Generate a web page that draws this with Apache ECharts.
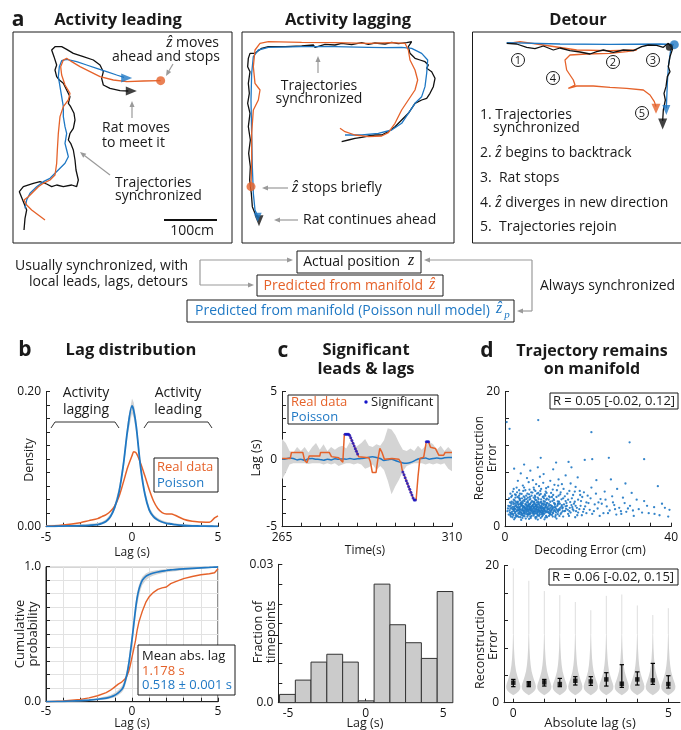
<!DOCTYPE html>
<html><head><meta charset="utf-8">
<script src="https://cdn.jsdelivr.net/npm/echarts@6/dist/echarts.min.js"></script>
<style>html,body{margin:0;padding:0;background:#fff}#c{width:681px;height:730px}</style>
</head><body><div id="c"></div>
<script>
// ================= DATA =================
// Panel a: trajectories (position units, arbitrary)
const leadRat = [[72,690],[75,655],[80,630],[68,600],[58,575],[70,560],[100,550],[120,545],[140,552],[155,560],[170,555],[190,560],[215,555],[230,560],[235,540],[228,510],[225,480],[220,450],[212,430],[205,420],[210,400],[220,385],[225,360],[222,340],[212,320],[205,310],[210,290],[200,270],[190,250],[178,240],[170,230],[165,210],[170,195],[162,170],[155,150],[165,140],[185,140],[200,148],[220,160],[250,170],[280,180],[300,195],[310,215],[305,235],[310,255],[330,265],[360,272],[385,273]];
const leadPoisson = [[75,625],[80,600],[90,580],[110,560],[130,545],[150,535],[165,520],[180,505],[195,490],[205,470],[200,450],[195,430],[200,400],[195,380],[190,350],[190,320],[185,290],[180,260],[175,230],[178,200],[185,182],[200,178],[230,185],[260,195],[290,205],[320,215],[350,225],[372,232]];
const leadReal = [[135,660],[115,645],[95,630],[80,615],[72,600],[85,590],[100,575],[115,560],[130,550],[150,540],[165,525],[170,490],[172,450],[175,400],[180,350],[190,320],[205,300],[210,280],[195,255],[185,225],[182,200],[190,180],[200,175],[215,185],[240,200],[270,215],[300,230],[340,240],[380,245],[430,243],[482,242]];
const lagRat = [[320,425],[340,420],[360,415],[380,412],[400,408],[420,405],[440,405],[460,395],[480,380],[500,360],[520,340],[540,310],[560,300],[575,295],[585,280],[595,260],[600,235],[590,215],[575,205],[580,195],[570,185],[555,180],[540,175],[525,160],[520,140],[530,125],[515,128],[490,131],[470,127],[450,132],[420,129],[400,133],[380,128],[350,134],[320,130],[300,135],[270,133],[240,142],[235,135],[200,138],[150,140],[100,140],[80,145],[60,160],[45,160],[40,175],[38,200],[45,215],[40,250],[43,280],[38,310],[45,340],[40,380],[46,420],[41,460],[46,500],[44,540],[49,580],[52,620],[62,645],[72,655]];
const lagPoisson = [[330,405],[380,405],[430,400],[470,390],[500,370],[520,340],[540,310],[560,290],[570,260],[575,220],[578,180],[560,160],[530,145],[500,142],[450,143],[400,142],[300,140],[200,140],[100,142],[70,150],[55,170],[50,220],[48,300],[50,400],[52,500],[55,580],[60,630],[68,648]];
const lagReal = [[315,385],[330,395],[360,405],[400,410],[440,408],[460,398],[480,370],[500,330],[520,300],[540,270],[548,240],[540,210],[525,180],[520,150],[510,130],[470,128],[400,130],[300,128],[200,127],[100,125],[75,130],[60,150],[55,200],[60,250],[75,270],[70,300],[55,330],[50,400],[50,480],[48,560]];
const detRat = [[140,130],[170,132],[200,142],[225,146],[250,138],[280,150],[300,144],[330,152],[360,156],[390,162],[410,155],[430,150],[460,157],[490,150],[520,152],[545,140],[565,135],[590,136],[610,142],[625,130],[638,146],[630,170],[625,200],[630,215],[622,230],[618,260],[612,280],[616,300],[610,330],[608,362]];
const detPoisson = [[140,128],[300,132],[450,133],[600,132],[640,133],[632,150],[625,200],[622,250],[620,300],[619,325]];
const detReal = [[145,130],[180,125],[250,135],[350,150],[450,152],[530,150],[500,155],[450,160],[380,162],[330,165],[315,180],[320,210],[340,240],[345,255],[325,265],[350,258],[400,258],[450,262],[500,265],[550,270],[570,285],[583,305],[588,320]];

// Panel b: lag density
const densLag = [-5,-4.5,-4,-3.5,-3,-2.5,-2,-1.75,-1.5,-1.25,-1,-0.75,-0.5,-0.25,0,0.1,0.25,0.5,0.75,1,1.25,1.5,1.75,2,2.3,2.5,3,3.5,4,4.5,4.8,5];
const poissonDens = [0.0005,0.0007,0.001,0.0012,0.0015,0.002,0.003,0.005,0.008,0.015,0.029,0.052,0.092,0.145,0.179,0.172,0.148,0.088,0.048,0.025,0.015,0.01,0.007,0.005,0.004,0.003,0.0018,0.0012,0.001,0.0007,0.0006,0.0005];
const poissonDensLo = [0,0,0,0.0002,0.0005,0.001,0.0018,0.0035,0.0062,0.012,0.025,0.046,0.084,0.135,0.168,0.161,0.138,0.081,0.043,0.021,0.012,0.008,0.005,0.0035,0.0027,0.002,0.0008,0.0003,0.0001,0,0,0];
const poissonDensHi = [0.0025,0.0028,0.003,0.0033,0.0037,0.0043,0.0053,0.0075,0.011,0.019,0.034,0.059,0.1,0.155,0.19,0.184,0.158,0.096,0.054,0.029,0.018,0.013,0.0095,0.0073,0.006,0.005,0.0038,0.003,0.0028,0.0025,0.0025,0.0025];
const realDens = [0.001,0.0015,0.0025,0.004,0.006,0.009,0.012,0.015,0.018,0.023,0.031,0.045,0.066,0.088,0.105,0.111,0.109,0.094,0.075,0.055,0.038,0.027,0.021,0.019,0.019,0.017,0.011,0.008,0.007,0.0065,0.013,0.016];
// Panel b: cumulative
const cdfLag = [-5,-4,-3,-2.5,-2,-1.5,-1.25,-1,-0.8,-0.6,-0.5,-0.4,-0.3,-0.2,-0.1,0,0.1,0.2,0.3,0.4,0.5,0.6,0.8,1,1.25,1.5,1.75,2,2.1,2.25,2.5,3,3.5,4,4.5,4.8,5];
const poissonCdf = [0,0.003,0.008,0.012,0.018,0.027,0.035,0.048,0.065,0.09,0.11,0.15,0.2,0.27,0.36,0.46,0.57,0.68,0.77,0.83,0.87,0.9,0.928,0.942,0.953,0.961,0.967,0.972,0.974,0.976,0.979,0.984,0.988,0.992,0.995,0.997,0.998];
const poissonCdfLo = [0,0,0.003,0.006,0.01,0.017,0.023,0.033,0.047,0.068,0.085,0.118,0.163,0.225,0.31,0.4,0.51,0.62,0.71,0.78,0.83,0.865,0.9,0.92,0.935,0.945,0.952,0.958,0.96,0.963,0.967,0.974,0.98,0.985,0.99,0.993,0.995];
const poissonCdfHi = [0.002,0.008,0.015,0.02,0.028,0.04,0.05,0.066,0.086,0.115,0.138,0.18,0.235,0.31,0.41,0.51,0.62,0.73,0.81,0.865,0.9,0.925,0.95,0.962,0.97,0.976,0.98,0.984,0.985,0.987,0.989,0.992,0.995,0.997,0.999,1,1];
const realCdf = [0,0.005,0.017,0.028,0.044,0.067,0.085,0.11,0.13,0.145,0.155,0.17,0.19,0.22,0.27,0.33,0.39,0.45,0.53,0.59,0.63,0.67,0.735,0.778,0.81,0.832,0.843,0.85,0.862,0.875,0.888,0.912,0.927,0.94,0.948,0.955,0.985];

// Panel c: time series of lag
const cT = [265,266,267,268,269,270,271,272,273,274,275,276,277,278,279,280,281,282,283,284,285,286,287,288,289,290,291,292,293,294,295,296,297,298,299,300,301,302,303,304,305,306,307,308,309,310];
const cBandHi = [1.5,1.2,0.6,0.5,0.9,0.6,0.9,0.5,0.9,1.2,0.7,1.1,0.6,0.9,0.7,0.9,1.0,0.8,1.3,0.8,1.0,1.2,1.5,1.0,0.9,1.1,1.0,1.4,2.3,2.2,1.8,1.2,0.7,0.6,0.8,0.6,1.0,0.7,1.0,1.3,1.1,0.7,1.0,0.6,0.9,0.6];
const cBandLo = [-1.5,-1.0,-0.4,-0.3,-0.3,-0.3,-0.3,-0.35,-0.3,-0.3,-0.3,-0.4,-0.3,-0.4,-0.3,-0.5,-0.4,-0.3,-0.3,-0.4,-0.3,-0.4,-0.7,-0.6,-0.4,-0.8,-0.5,-0.8,-1.6,-2.6,-2.0,-1.5,-0.9,-0.5,-0.4,-0.3,-0.3,-0.3,-0.4,-0.3,-0.4,-0.3,-0.4,-0.3,-0.7,-0.9];
const cPoisson = [0,0.02,0.08,0.05,-0.05,0,-0.08,0.03,0.05,0,-0.02,-0.08,0,-0.05,0.03,0,0.02,0,0.05,0,0.03,0.05,0.08,0.15,0.18,0.12,0.05,-0.1,-0.05,0,-0.1,-0.2,-0.28,-0.3,-0.25,-0.12,0.02,0.05,0.08,0,0.05,0.08,0.05,0.1,0.12,0.12];
const cRealT = [265,267.2,267.5,270.5,271.0,271.6,272.2,275.0,275.2,277.5,278.1,280.0,281.1,281.5,282.8,285.3,288.0,288.4,288.9,289.9,290.3,290.9,291.5,292.1,294.1,295.9,296.5,296.8,299.9,300.5,301.0,301.5,302.5,303.2,303.8,304.3,305.6,306.5,307.8,308.2,310];
const cRealV = [0.06,0.06,0.5,0.5,-0.1,-0.26,0.23,0.23,0.5,0.5,0.19,0.1,-0.23,1.84,1.84,0.19,0.1,-0.19,-0.98,-0.98,-0.14,0.8,0.48,0.0,0.06,0.0,-0.26,-0.8,-3.02,-3.02,-1.3,0.06,0.14,1.3,1.3,0.88,0.8,0.3,0.3,0.5,0.5];
const sigT = [281.7,282.0,282.3,282.6,282.9,283.2,283.5,283.8,284.1,284.4,284.7,285.0,297.0,297.3,297.6,297.9,298.2,298.5,298.8,299.1,299.4,299.7,300.0,300.3,303.2,303.5,303.8];
const sigV = [1.84,1.84,1.84,1.84,1.78,1.58,1.38,1.18,0.98,0.78,0.58,0.39,-0.94,-1.16,-1.37,-1.59,-1.8,-2.02,-2.23,-2.45,-2.66,-2.88,-3.02,-3.02,1.3,1.3,1.3];
// Panel c: histogram of significant lags
const binEdges = [-5.55,-4.53,-3.52,-2.5,-1.48,-0.47,0.55,1.57,2.58,3.6,4.62,5.63];
const histVals = [0.0018,0.0049,0.0088,0.0105,0.0088,0.0004,0.0257,0.0169,0.0130,0.0096,0.0241];

// Panel d: decoding error (cm) vs reconstruction error
const decodeScatter = [[1.2,2.1],[1.5,3.4],[1.8,2.6],[2.0,1.7],[2.1,4.0],[2.3,3.0],[2.5,2.2],[2.6,3.7],[2.8,1.5],[2.9,2.9],[3.0,4.4],[3.1,2.4],[3.3,3.3],[3.4,1.9],[3.5,2.8],[3.6,3.9],[3.7,1.4],[3.8,2.5],[3.9,3.1],[4.0,2.0],[4.1,4.2],[4.2,2.7],[4.3,3.5],[4.4,1.6],[4.5,2.3],[4.6,3.0],[4.7,3.8],[4.8,1.9],[4.9,2.6],[5.0,3.3],[5.1,4.6],[5.2,2.1],[5.3,2.9],[5.4,1.5],[5.5,3.6],[5.6,2.4],[5.7,3.1],[5.8,1.8],[5.9,4.0],[6.0,2.7],[6.1,3.4],[6.2,2.0],[6.3,2.9],[6.4,1.6],[6.5,3.8],[6.6,2.5],[6.7,3.2],[6.8,1.9],[6.9,4.3],[7.0,2.8],[7.1,3.5],[7.2,2.2],[7.3,1.4],[7.4,3.0],[7.5,2.6],[7.6,3.9],[7.7,2.0],[7.8,3.3],[7.9,1.7],[8.0,2.9],[8.1,4.1],[8.2,2.4],[8.3,3.1],[8.4,1.8],[8.5,3.6],[8.6,2.7],[8.7,2.1],[8.8,3.4],[8.9,1.5],[9.0,2.9],[9.1,4.4],[9.2,2.3],[9.3,3.2],[9.4,1.9],[9.5,2.6],[9.6,3.7],[9.7,2.1],[9.8,3.0],[9.9,1.6],[10.0,2.8],[10.2,3.5],[10.4,2.2],[10.5,4.0],[10.7,2.6],[10.9,1.8],[11.0,3.2],[11.2,2.4],[11.4,3.8],[11.6,2.0],[11.8,2.9],[12.0,3.4],[12.2,1.7],[12.4,2.6],[12.6,3.1],[12.8,2.2],[13.0,3.7],[13.2,2.5],[13.4,1.9],[13.6,3.0],[13.8,2.7],[1.6,2.8],[2.2,2.3],[2.7,3.2],[3.2,2.0],[3.6,2.6],[4.1,3.2],[4.4,2.4],[4.8,2.9],[5.2,3.6],[5.6,1.9],[6.0,3.0],[6.3,2.4],[6.8,2.7],[7.2,3.0],[7.6,2.3],[8.1,2.6],[8.5,2.2],[9.0,3.4],[9.4,2.6],[9.9,2.3],[3.4,2.4],[4.6,2.1],[5.4,2.6],[6.6,2.1],[7.8,2.5],[3.9,3.6],[5.8,3.3],[7.0,3.7],[8.9,2.4],[10.3,2.9],[1.4,1.5],[2.4,1.3],[3.0,1.6],[4.2,1.3],[5.0,1.2],[6.2,1.3],[7.4,1.2],[8.6,1.3],[10.1,1.4],[11.5,1.5],[2.0,3.6],[3.5,4.1],[4.5,4.5],[5.5,4.3],[6.4,4.6],[7.3,4.4],[8.3,4.7],[9.4,4.2],[10.6,4.5],[11.7,4.1],[1.9,5.2],[2.8,5.8],[3.6,4.9],[4.3,6.1],[4.9,5.4],[5.7,6.6],[6.3,5.1],[6.9,5.8],[7.5,6.3],[8.0,5.0],[8.7,5.6],[9.2,6.5],[9.8,5.2],[10.4,5.9],[11.1,5.0],[11.9,6.2],[12.5,5.4],[13.3,4.8],[14.1,5.6],[15.0,4.9],[3.1,6.8],[5.3,7.2],[6.7,6.9],[8.4,7.4],[10.9,6.8],[12.9,7.0],[2.4,4.8],[7.7,4.9],[9.6,4.8],[13.7,6.3],[3.8,7.9],[6.1,8.3],[7.9,8.8],[9.3,7.8],[11.6,8.5],[14.6,7.6],[16.0,8.8],[4.6,9.2],[12.3,9.5],[17.5,7.3],[15.3,9.6],[19.2,9.9],[8.6,10.2],[2.2,8.6],[14.3,2.3],[14.8,3.5],[15.2,1.9],[15.6,2.8],[16.1,4.2],[16.5,2.4],[17.0,3.1],[17.4,1.7],[17.9,2.6],[18.3,3.8],[18.8,2.2],[19.3,3.0],[19.9,4.6],[20.4,2.5],[21.0,1.9],[21.6,3.3],[22.3,2.7],[23.0,4.1],[23.7,2.0],[24.5,3.0],[25.2,2.4],[26.0,3.6],[26.8,1.8],[27.5,2.8],[28.4,4.3],[29.2,2.2],[30.1,3.1],[31.0,1.6],[32.2,2.6],[33.5,3.8],[34.6,2.0],[35.9,2.9],[37.2,1.7],[38.5,2.8],[39.3,1.5],[24.0,5.2],[27.0,5.6],[30.5,5.0],[36.8,6.0],[20.8,5.8],[15.8,6.4],[18.0,5.3],[22.0,6.9],[25.5,7.0],[29.0,6.4],[0.4,15.5],[1.1,14.5],[8.0,15.8],[20.8,14.0],[30.0,12.5],[25.0,10.2],[21.0,10.0],[33.5,10.0],
[1.3,1.7],[2.6,1.6],[3.3,1.45],[4.7,1.55],[5.5,1.75],[6.1,1.5],[6.9,1.65],[7.6,1.45],[8.2,1.6],[9.1,1.7],[9.7,1.35],[10.6,1.6],[11.3,1.75],[12.1,1.45],[13.1,1.6],[14.0,1.5],[15.4,1.6],[16.9,1.4],[1.9,1.9],[3.8,1.8],[5.3,1.85],[7.1,1.9],[8.9,1.85],[10.8,1.9],[12.7,1.85],
[1.1,2.4],[1.7,2.2],[2.4,2.0],[2.9,2.45],[3.5,2.15],[4.1,2.35],[4.6,2.0],[5.1,2.45],[5.7,2.2],[6.2,2.35],[6.8,2.05],[7.3,2.4],[7.9,2.15],[8.4,2.3],[9.0,2.05],[9.5,2.45],[10.1,2.15],[10.8,2.35],[11.4,2.05],[12.1,2.3],[12.9,2.45],[13.6,2.1],[14.5,2.35],[15.8,2.1],[17.1,2.3],[2.1,2.5],[3.9,2.05],[5.9,2.5],[7.0,2.25],[8.7,2.45],[10.5,2.05],[11.9,2.5],
[1.3,2.7],[1.9,2.95],[2.5,2.6],[3.0,2.8],[3.6,2.95],[4.2,2.55],[4.7,2.75],[5.3,2.6],[5.8,2.9],[6.4,2.65],[6.9,2.95],[7.5,2.7],[8.0,2.55],[8.6,2.85],[9.2,2.65],[9.7,2.9],[10.3,2.6],[10.9,2.8],[11.5,2.65],[12.2,2.95],[13.0,2.6],[13.9,2.85],[14.7,2.65],[16.2,2.9],[2.2,2.75],[4.4,2.9],[6.1,2.55],[7.7,2.85],[9.5,2.7],[11.2,2.55],
[1.4,3.1],[2.0,3.35],[2.6,3.05],[3.2,3.25],[3.7,3.45],[4.3,3.1],[4.9,3.35],[5.4,3.05],[6.0,3.3],[6.5,3.1],[7.1,3.4],[7.7,3.05],[8.2,3.3],[8.8,3.1],[9.3,3.45],[9.9,3.2],[10.6,3.35],[11.3,3.05],[12.0,3.25],[12.8,3.45],[13.7,3.2],[14.9,3.1],[16.6,3.4],[2.9,3.5],[5.1,3.2],[7.4,3.25],[10.0,3.5],
[1.6,3.7],[2.3,3.9],[3.0,3.6],[3.6,4.15],[4.2,3.75],[4.8,4.05],[5.5,3.8],[6.1,4.1],[6.8,3.65],[7.4,3.95],[8.0,3.7],[8.7,4.05],[9.3,3.8],[10.1,4.15],[10.9,3.7],[11.8,3.95],[12.7,3.75],[13.6,4.05],[14.6,3.8],[15.7,3.65],[17.6,4.0],
[1.5,4.4],[2.6,4.7],[3.3,4.3],[4.0,4.85],[4.7,4.35],[5.4,4.9],[6.0,4.4],[6.6,5.05],[7.2,4.6],[7.9,4.3],[8.6,4.85],[9.3,4.5],[10.0,5.0],[10.8,4.35],[11.6,4.7],[12.4,4.4],[13.4,5.1],[14.4,4.5],[16.4,4.7],[18.6,4.4],
[2.1,5.6],[3.4,5.4],[4.6,5.8],[5.9,5.5],[7.3,5.3],[8.2,6.0],[9.9,5.7],[11.5,5.5],[12.8,6.1],[15.5,5.3],[17.0,5.9],[19.0,5.1],
[2.2,1.1],[3.9,1.0],[5.8,1.15],[7.9,1.05],[9.5,1.1],[12.4,1.2],
[18.5,1.7],[20.1,3.5],[21.4,2.3],[22.8,1.6],[23.3,3.4],[24.8,2.0],[25.8,4.5],[26.5,2.6],[28.0,1.9],[28.8,3.5],[30.8,2.4],[31.7,4.0],[33.0,2.1],[34.2,3.1],[36.0,1.9],[37.8,3.4],[39.6,2.5],[21.9,4.9],[19.6,2.0],[16.8,5.2],
[0.6,2.3],[0.8,3.1],[0.9,1.8],[1.0,4.2],[0.7,2.7],[1.2,3.6],[1.4,2.0],[1.7,4.6],[1.8,1.4],[2.3,2.7],[2.5,4.3],[2.7,1.8],[3.1,3.7],[3.2,2.9],[3.4,4.6],[3.7,2.2],[4.0,3.4],[4.3,1.9],[4.5,3.9],[4.9,2.2],[5.2,4.1],[5.4,3.0],[5.7,2.6],[6.0,1.9],[6.3,3.6],[6.6,3.0],[6.9,2.3],[7.2,4.1],[7.5,3.2],[7.8,1.8],[8.1,3.5],[8.4,2.8],[8.7,3.7],[9.0,2.2],[9.3,2.8],[9.6,3.3],[9.9,4.0],[10.2,2.5],[10.6,3.1],[11.0,2.2],[11.4,2.8],[11.8,3.5],[12.3,2.1],[12.7,3.3],[13.3,2.8],[14.2,3.3],[15.1,2.5],[16.0,3.2],[17.3,2.8],[18.2,3.1],
[1.1,3.0],[1.6,1.9],[2.0,2.5],[2.4,3.4],[2.8,2.3],[3.3,2.6],[3.8,3.3],[4.1,1.7],[4.4,2.9],[4.7,2.4],[5.0,2.7],[5.3,2.3],[5.6,3.3],[5.9,2.1],[6.2,2.8],[6.5,2.3],[6.8,3.3],[7.1,2.6],[7.4,2.0],[7.7,3.6],[8.0,2.3],[8.3,2.0],[8.6,3.0],[8.9,2.7],[9.2,2.0],[9.6,2.3],[10.0,3.2],[10.4,2.6],[10.8,2.0],[11.2,3.0],[11.7,2.3],[12.1,2.8],[12.6,2.4],[13.2,3.4],[13.9,2.3],[14.6,3.0],[15.5,2.3],[16.3,2.6],[17.6,2.1],[19.0,2.6],
[1.3,4.9],[2.9,5.1],[4.4,5.3],[5.8,4.8],[7.0,5.5],[8.5,5.3],[9.7,4.6],[11.3,4.4],[12.9,4.6],[14.0,4.2],[15.2,4.0],[16.8,3.7],[18.1,4.7],[19.6,3.6],[20.6,4.2],[22.5,3.6],[24.2,4.0],[26.3,3.2],[27.9,2.3],[29.6,2.7]];
// Panel d: reconstruction error vs absolute lag (violins)
const vLags = [0,0.5,1,1.5,2,2.5,3,3.5,4,4.5,5];
const vMed = [2.92,2.72,2.97,2.72,3.2,3.1,3.4,2.77,3.4,3.26,2.72];
const vLo = [2.34,2.34,2.43,2.34,2.58,2.53,2.43,2.24,2.58,2.68,2.14];
const vHi = [3.4,3.07,3.4,3.55,3.8,3.8,4.38,5.55,4.5,5.74,3.94];
const vTop = [19.6,17.8,16.3,15.7,14.7,13.5,15.6,15.8,14.2,12.8,13.8];
const violinY = [1.1,1.4,1.7,2.0,2.4,2.8,3.3,3.9,4.6,5.5,6.5,8.0,10.0];
const violinW = [0.0,0.11,0.18,0.22,0.23,0.21,0.17,0.13,0.09,0.06,0.04,0.022,0.01];

// ================= STYLE =================
const FONT = '"Open Sans", "Noto Sans", sans-serif';
const SERIF = '"Liberation Serif", "DejaVu Serif", serif';
const ORANGE = '#E5622A', BLUE = '#1F78C4', BLACK = '#111', GRAY = '#9a9a9a', BAND = '#d4d4d4', AXC = '#222';

const grids = [
  {left:0, top:0, width:240, height:240},
  {left:235, top:0, width:230, height:240},
  {left:460, top:0, width:221, height:240},
  {left:46, top:391.7, width:172, height:135},
  {left:46, top:566.7, width:172, height:135, show:true, borderColor:AXC, borderWidth:1},
  {left:282, top:391.7, width:170, height:135},
  {left:278.3, top:564.3, width:174.4, height:138.4},
  {left:505, top:391.7, width:173, height:135},
  {left:504, top:565.7, width:176, height:137}
];

function hid(gi, max, inv){ return {type:'value', gridIndex:gi, min:0, max:max, show:false, inverse:!!inv}; }
function fmt(list){ return function(v){ for (const [val, s] of list) if (Math.abs(v-val) < 1e-7) return s; return ''; }; }
function vAx(gi, min, max, extra){
  const base = {type:'value', gridIndex:gi, min, max,
    axisLine:{show:true, onZero:false, lineStyle:{color:AXC, width:1}},
    axisTick:{show:true, inside:true, length:4, lineStyle:{color:AXC, width:1}},
    splitLine:{show:false},
    axisLabel:{color:'#111', fontFamily:FONT, fontSize:12, margin:5, showMinLabel:true, showMaxLabel:true, hideOverlap:false}};
  for (const k in extra){ if (typeof extra[k]==='object' && base[k] && !Array.isArray(extra[k])) base[k] = Object.assign({}, base[k], extra[k]); else base[k]=extra[k]; }
  return base;
}
const tick11 = [-5,-4,-3,-2,-1,0,1,2,3,4,5];

const xAxis = [
  hid(0,720), hid(1,690), hid(2,663),
  vAx(3,-5,5,{interval:1, axisLabel:{margin:5, formatter:fmt([[-5,'-5'],[0,'0'],[5,'5']])}}),
  vAx(4,-5,5,{interval:1, splitLine:{show:true, lineStyle:{color:'#e2e2e2', width:1}}, axisLabel:{margin:4, formatter:fmt([[-5,'-5'],[0,'0'],[5,'5']])}}),
  vAx(5,265,310,{interval:5, axisLabel:{margin:5, formatter:fmt([[265,'265'],[310,'310']])}}),
  vAx(6,-5.63,5.62,{axisTick:{customValues:tick11}, axisLabel:{margin:5, customValues:[-5,0,5], formatter:fmt([[-5,'-5'],[0,'0'],[5,'5']])}}),
  vAx(7,0,40,{interval:5, axisLabel:{margin:5, formatter:fmt([[0,'0'],[40,'40']])}}),
  vAx(8,-0.3,5.377,{axisTick:{customValues:[0,1,2,3,4,5]}, axisLabel:{margin:5, customValues:[0,5], formatter:fmt([[0,'0'],[5,'5']])}})
];
const cbTicks = [0,1,2,3,4,5,6,7].map(k=>k*0.03/7);
const yAxis = [
  hid(0,720,true), hid(1,720,true), hid(2,720,true),
  vAx(3,0,0.2,{interval:0.02, axisLabel:{formatter:fmt([[0,'0.00'],[0.2,'0.20']])}}),
  vAx(4,0,1,{interval:0.1, splitLine:{show:true, lineStyle:{color:'#e2e2e2', width:1}}, axisLabel:{formatter:fmt([[0,'0.0'],[1,'1.0']])}}),
  vAx(5,-5,5,{interval:1, axisLabel:{formatter:fmt([[-5,'-5'],[0,'0'],[5,'5']])}}),
  vAx(6,0,0.03,{axisTick:{customValues:cbTicks}, axisLabel:{customValues:[0,0.03], formatter:fmt([[0,'0.0'],[0.03,'0.03']])}}),
  vAx(7,0,20,{interval:4, axisLabel:{formatter:fmt([[0,'0'],[20,'20']])}}),
  vAx(8,0,20,{interval:4, axisLabel:{formatter:fmt([[0,'0'],[20,'20']])}})
];

// ================= SERIES =================
function pairs(xs, ys){ return xs.map((x,i)=>[x, ys[i]]); }
function lineS(ai, data, color, w, z, extra){
  return Object.assign({type:'line', xAxisIndex:ai, yAxisIndex:ai, data, showSymbol:false, symbol:'none',
    lineStyle:{color, width:w}, itemStyle:{color}, silent:true, z:z||3, animation:false}, extra||{});
}
function bandS(ai, xs, lo, hi, color){
  return {type:'custom', xAxisIndex:ai, yAxisIndex:ai, data:[[xs[0], lo[0]]], silent:true, z:1,
    renderItem:function(p, api){
      const pts=[];
      for (let i=0;i<xs.length;i++) pts.push(api.coord([xs[i], hi[i]]));
      for (let i=xs.length-1;i>=0;i--) pts.push(api.coord([xs[i], lo[i]]));
      return {type:'polygon', shape:{points:pts}, style:{fill:color}};
    }};
}
function headS(ai, pt, color, rot, size, sym){
  return {type:'scatter', xAxisIndex:ai, yAxisIndex:ai, data:[pt], symbol:sym||'triangle', symbolRotate:rot||0,
    symbolSize:size, itemStyle:{color}, silent:true, z:6, animation:false};
}

const series = [
  // a1 leading
  lineS(0, leadRat, BLACK, 1.3), lineS(0, leadPoisson, BLUE, 1.3), lineS(0, leadReal, ORANGE, 1.3),
  headS(0,[394,273],BLACK,-90,[9,11]), headS(0,[380,234],BLUE,-90,[9,11]), headS(0,[482,242],ORANGE,0,9,'circle'),
  // a2 lagging
  lineS(1, lagRat, BLACK, 1.3), lineS(1, lagPoisson, BLUE, 1.3), lineS(1, lagReal, ORANGE, 1.3),
  headS(1,[72,662],BLACK,180,[9,11]), headS(1,[68,652],BLUE,180,[8,9]), headS(1,[48,560],ORANGE,0,9,'circle'),
  // a3 detour
  lineS(2, detReal, ORANGE, 1.3), lineS(2, detPoisson, BLUE, 1.3), lineS(2, detRat, BLACK, 1.3),
  headS(2,[643,134],BLUE,0,9,'circle'), headS(2,[628,142],BLACK,0,7,'circle'),
  headS(2,[608,372],BLACK,180,[9,11]), headS(2,[619,330],BLUE,180,[8,10]), headS(2,[588,326],ORANGE,180,[9,10]),
  // b top density
  bandS(3, densLag, poissonDensLo, poissonDensHi, BAND),
  lineS(3, pairs(densLag, realDens), ORANGE, 1.5, 3, {smooth:0.3}),
  lineS(3, pairs(densLag, poissonDens), BLUE, 1.8, 4, {smooth:0.3}),
  // b bottom cdf
  bandS(4, cdfLag, poissonCdfLo, poissonCdfHi, BAND),
  lineS(4, pairs(cdfLag, realCdf), ORANGE, 1.4, 3),
  lineS(4, pairs(cdfLag, poissonCdf), BLUE, 1.7, 4, {smooth:0.2}),
  // c top
  bandS(5, cT, cBandLo, cBandHi, BAND),
  lineS(5, pairs(cT, cPoisson), BLUE, 1.5, 3, {smooth:0.3}),
  lineS(5, pairs(cRealT, cRealV), ORANGE, 1.5, 4),
  {type:'scatter', xAxisIndex:5, yAxisIndex:5, data:pairs(sigT, sigV), symbolSize:3, itemStyle:{color:'#1414c8'}, silent:true, z:5, animation:false},
  // c bottom histogram
  {type:'custom', xAxisIndex:6, yAxisIndex:6, silent:true, z:2,
   data: histVals.map((v,i)=>[(binEdges[i]+binEdges[i+1])/2, v]),
   renderItem:function(p, api){
     const i=p.dataIndex;
     const a=api.coord([binEdges[i], histVals[i]]), b=api.coord([binEdges[i+1], 0]);
     return {type:'rect', shape:{x:a[0], y:a[1], width:b[0]-a[0], height:b[1]-a[1]}, style:{fill:'#cbcbcb', stroke:'#333', lineWidth:1}};
   }},
  // d top scatter
  {type:'scatter', xAxisIndex:7, yAxisIndex:7, data:decodeScatter, symbolSize:2.3, itemStyle:{color:'#1F78C4', opacity:0.9}, silent:true, z:3, animation:false},
  // d bottom violins
  {type:'custom', xAxisIndex:8, yAxisIndex:8, silent:true, z:2,
   data: vLags.map((x,i)=>[x, vTop[i]]),
   renderItem:function(p, api){
     const i=p.dataIndex, x=vLags[i];
     const pts=[];
     for (let k=0;k<violinY.length;k++) pts.push(api.coord([x+violinW[k], violinY[k]]));
     for (let k=violinY.length-1;k>=0;k--) pts.push(api.coord([x-violinW[k], violinY[k]]));
     const t0=api.coord([x, violinY[violinY.length-1]]), t1=api.coord([x, vTop[i]]);
     return {type:'group', children:[
       {type:'line', shape:{x1:t0[0], y1:t0[1], x2:t1[0], y2:t1[1]}, style:{stroke:'#dedede', lineWidth:1}},
       {type:'polygon', shape:{points:pts}, style:{fill:'#d3d3d3'}}]};
   }},
  {type:'custom', xAxisIndex:8, yAxisIndex:8, silent:true, z:4,
   data: vLags.map((x,i)=>[x, vMed[i]]),
   renderItem:function(p, api){
     const i=p.dataIndex, x=vLags[i];
     const lo=api.coord([x, vLo[i]]), hi=api.coord([x, vHi[i]]);
     const c=2.2;
     return {type:'group', children:[
       {type:'line', shape:{x1:lo[0], y1:lo[1], x2:hi[0], y2:hi[1]}, style:{stroke:'#000', lineWidth:1.2}},
       {type:'line', shape:{x1:lo[0]-c, y1:lo[1], x2:lo[0]+c, y2:lo[1]}, style:{stroke:'#000', lineWidth:1.2}},
       {type:'line', shape:{x1:hi[0]-c, y1:hi[1], x2:hi[0]+c, y2:hi[1]}, style:{stroke:'#000', lineWidth:1.2}}]};
   }},
  {type:'scatter', xAxisIndex:8, yAxisIndex:8, data:pairs(vLags, vMed), symbol:'rect', symbolSize:4.5, itemStyle:{color:'#000'}, silent:true, z:5, animation:false}
];

// ================= GRAPHICS (text, boxes, annotation arrows) =================
const G = [];
function txt(s, x, y, o){
  o = o||{};
  const el = {type:'text', x, y, rotation:o.rot||0, silent:true, z:100,
    style:{text:s, fill:o.color||'#1a1a1a', font:(o.style||'normal')+' '+(o.weight||'normal')+' '+(o.size||14)+'px '+(o.family||FONT),
      align:o.align||'center', textAlign:o.align||'center', verticalAlign:'middle', textVerticalAlign:'middle'}};
  if (o.rich) el.style.rich = o.rich;
  G.push(el);
}
function rect(x, y, w, h, o){
  o=o||{};
  G.push({type:'rect', silent:true, z:o.z||99, shape:{x, y, width:w, height:h}, style:{fill:o.fill||'none', stroke:o.stroke||'#1a1a1a', lineWidth:o.lw||1}});
}
function seg(x1,y1,x2,y2,color,w){ G.push({type:'line', silent:true, z:99, shape:{x1,y1,x2,y2}, style:{stroke:color, lineWidth:w||1}}); }
function arrow(x1,y1,x2,y2,color,w,hl){
  hl = hl||6; const a=Math.atan2(y2-y1,x2-x1);
  const bx=x2-hl*Math.cos(a), by=y2-hl*Math.sin(a), px=-Math.sin(a)*hl*0.42, py=Math.cos(a)*hl*0.42;
  seg(x1,y1,bx,by,color,w||1.2);
  G.push({type:'polygon', silent:true, z:99, shape:{points:[[x2,y2],[bx+px,by+py],[bx-px,by-py]]}, style:{fill:color}});
}
function circ(cx, cy, r, label){
  G.push({type:'circle', silent:true, z:99, shape:{cx, cy, r}, style:{fill:'none', stroke:'#1a1a1a', lineWidth:1}});
  txt(label, cx, cy+0.5, {size:11});
}
const ZR = {z:{font:'italic 16px '+SERIF}};

// Panel titles
txt('a', 18, 20, {weight:'bold', size:21});
txt('Activity leading', 118, 20, {weight:'bold', size:16.5});
txt('Activity lagging', 348, 20, {weight:'bold', size:16.5});
txt('Detour', 578, 20, {weight:'bold', size:16.5});
txt('b', 25, 350, {weight:'bold', size:21});
txt('Lag distribution', 131, 350, {weight:'bold', size:16.5});
txt('c', 283, 351, {weight:'bold', size:21});
txt('Significant', 366, 350, {weight:'bold', size:16.5});
txt('leads & lags', 366, 369, {weight:'bold', size:16.5});
txt('d', 487, 351, {weight:'bold', size:21});
txt('Trajectory remains', 592, 351, {weight:'bold', size:16});
txt('on manifold', 592, 369, {weight:'bold', size:16});

// Panel a boxes
rect(13, 32, 219, 211); rect(242, 32, 212, 211); rect(472.5, 32, 215, 211);
// a1 annotations
txt('{z|\u1E91} moves', 219, 43, {align:'right', rich:ZR});
txt('ahead and stops', 220, 57, {align:'right'});
arrow(173, 64, 166, 76, GRAY, 1.2, 6);
txt('Rat moves', 102, 128, {align:'left'});
txt('to meet it', 102, 143, {align:'left'});
arrow(132, 118, 132, 101, GRAY, 1.2, 6);
txt('Trajectories', 115, 183, {align:'left'});
txt('synchronized', 115, 196, {align:'left'});
arrow(110, 175, 80, 152, GRAY, 1.2, 6);
seg(164, 220, 217, 220, '#111', 2.2);
txt('100cm', 192, 231);
// a2 annotations
txt('Trajectories', 319, 86);
txt('synchronized', 319, 99);
arrow(318, 73, 318, 56, GRAY, 1.2, 6);
txt('{z|\u1E91} stops briefly', 292, 188, {align:'left', rich:ZR});
arrow(288, 188, 262, 188, GRAY, 1.2, 6);
txt('Rat continues ahead', 303, 220, {align:'left'});
arrow(298, 220, 274, 220, GRAY, 1.2, 6);
// a3 annotations
circ(518, 60, 6.5, '1'); circ(613, 62, 6.5, '2'); circ(653, 60, 6.5, '3'); circ(553, 78, 6.5, '4'); circ(642, 113, 6.5, '5');
txt('1. Trajectories', 480, 115, {align:'left'});
txt('synchronized', 493, 128, {align:'left'});
txt('2. {z|\u1E91} begins to backtrack', 480, 153, {align:'left', rich:ZR});
txt('3.  Rat stops', 480, 178, {align:'left'});
txt('4. {z|\u1E91} diverges in new direction', 480, 203, {align:'left', rich:ZR});
txt('5.  Trajectories rejoin', 480, 227, {align:'left'});

// Middle diagram
txt('Usually synchronized, with', 188, 266, {align:'right'});
txt('local leads, lags, detours', 188, 282, {align:'right'});
seg(200, 260, 200, 285, GRAY, 1.2);
arrow(200, 260, 293, 260, GRAY, 1.2, 6);
arrow(200, 285, 254, 285, GRAY, 1.2, 6);
rect(297, 251, 124, 22);
txt('Actual position', 400, 262, {align:'right'});
txt('z', 411, 261, {style:'italic', family:SERIF, size:16});
rect(257, 275, 186, 21);
txt('Predicted from manifold', 423, 286, {align:'right', color:ORANGE});
txt('\u1E91', 432, 285, {style:'italic', family:SERIF, size:16, color:ORANGE});
rect(187, 300, 327, 22);
txt('Predicted from manifold (Poisson null model)', 490, 311, {align:'right', color:BLUE});
txt('\u1E91', 499, 309, {style:'italic', family:SERIF, size:16, color:BLUE});
txt('p', 507, 315, {style:'italic', family:SERIF, size:11, color:BLUE});
seg(532, 260, 532, 311, GRAY, 1.2);
arrow(532, 260, 424, 260, GRAY, 1.2, 6);
arrow(532, 311, 517, 311, GRAY, 1.2, 6);
txt('Always synchronized', 540, 286, {align:'left'});

// Panel b annotations
txt('Activity', 86, 393); txt('lagging', 86, 410);
txt('Activity', 178, 393); txt('leading', 178, 410);
G.push({type:'polyline', silent:true, z:99, shape:{points:[[51,428],[55,422],[115,422],[119,428]]}, style:{stroke:'#333', lineWidth:1, fill:null}});
G.push({type:'polyline', silent:true, z:99, shape:{points:[[144,428],[148,422],[208,422],[212,428]]}, style:{stroke:'#333', lineWidth:1, fill:null}});
rect(154, 458, 64, 34, {fill:'#fff', lw:1});
txt('Real data', 157, 467, {align:'left', color:ORANGE, size:13});
txt('Poisson', 157, 483, {align:'left', color:BLUE, size:13});
txt('Density', 29, 460, {rot:Math.PI/2, size:12.5});
txt('Lag (s)', 132, 553, {size:12});
txt('Cumulative', 20, 634, {rot:Math.PI/2, size:13});
txt('probability', 33, 634, {rot:Math.PI/2, size:13});
txt('Lag (s)', 132, 724, {size:12});
rect(138, 645, 97, 50, {fill:'#fff', lw:1});
txt('Mean abs. lag', 142, 656, {align:'left', size:13});
txt('1.178 s', 142, 671, {align:'left', color:ORANGE, size:13});
txt('0.518 \u00B1 0.001 s', 142, 685, {align:'left', color:BLUE, size:13});

// Panel c annotations
rect(288, 395, 150, 29, {fill:'#fff', lw:1});
txt('Real data', 291, 402, {align:'left', color:ORANGE, size:13});
txt('Poisson', 291, 417, {align:'left', color:BLUE, size:13});
G.push({type:'circle', silent:true, z:101, shape:{cx:366, cy:402, r:1.7}, style:{fill:'#1414c8'}});
txt('Significant', 371, 402, {align:'left', size:13});
txt('Lag (s)', 256, 458, {rot:Math.PI/2, size:12.5});
txt('Time(s)', 365, 551, {size:12});
txt('Fraction of', 258, 632, {rot:Math.PI/2, size:12.5});
txt('timepoints', 271, 632, {rot:Math.PI/2, size:12.5});
txt('Lag (s)', 365, 723, {size:12.5});

// Panel d annotations
rect(550, 393, 128, 16, {fill:'#fff', lw:1});
txt('R = 0.05 [-0.02, 0.12]', 614, 401, {size:13});
txt('Reconstruction', 480, 458, {rot:Math.PI/2, size:12});
txt('Error', 493, 458, {rot:Math.PI/2, size:12});
txt('Decoding Error (cm)', 590, 551, {size:12});
rect(549, 569, 129, 16, {fill:'#fff', lw:1});
txt('R = 0.06 [-0.02, 0.15]', 613, 577, {size:13});
txt('Reconstruction', 480, 645, {rot:Math.PI/2, size:12.5});
txt('Error', 493, 645, {rot:Math.PI/2, size:12.5});
txt('Absolute lag (s)', 590, 723, {size:13});

const chart = echarts.init(document.getElementById('c'), null, {renderer:'canvas'});
chart.setOption({animation:false, backgroundColor:'#fff', grid:grids, xAxis, yAxis, series, graphic:{elements:G}});
</script></body></html>
